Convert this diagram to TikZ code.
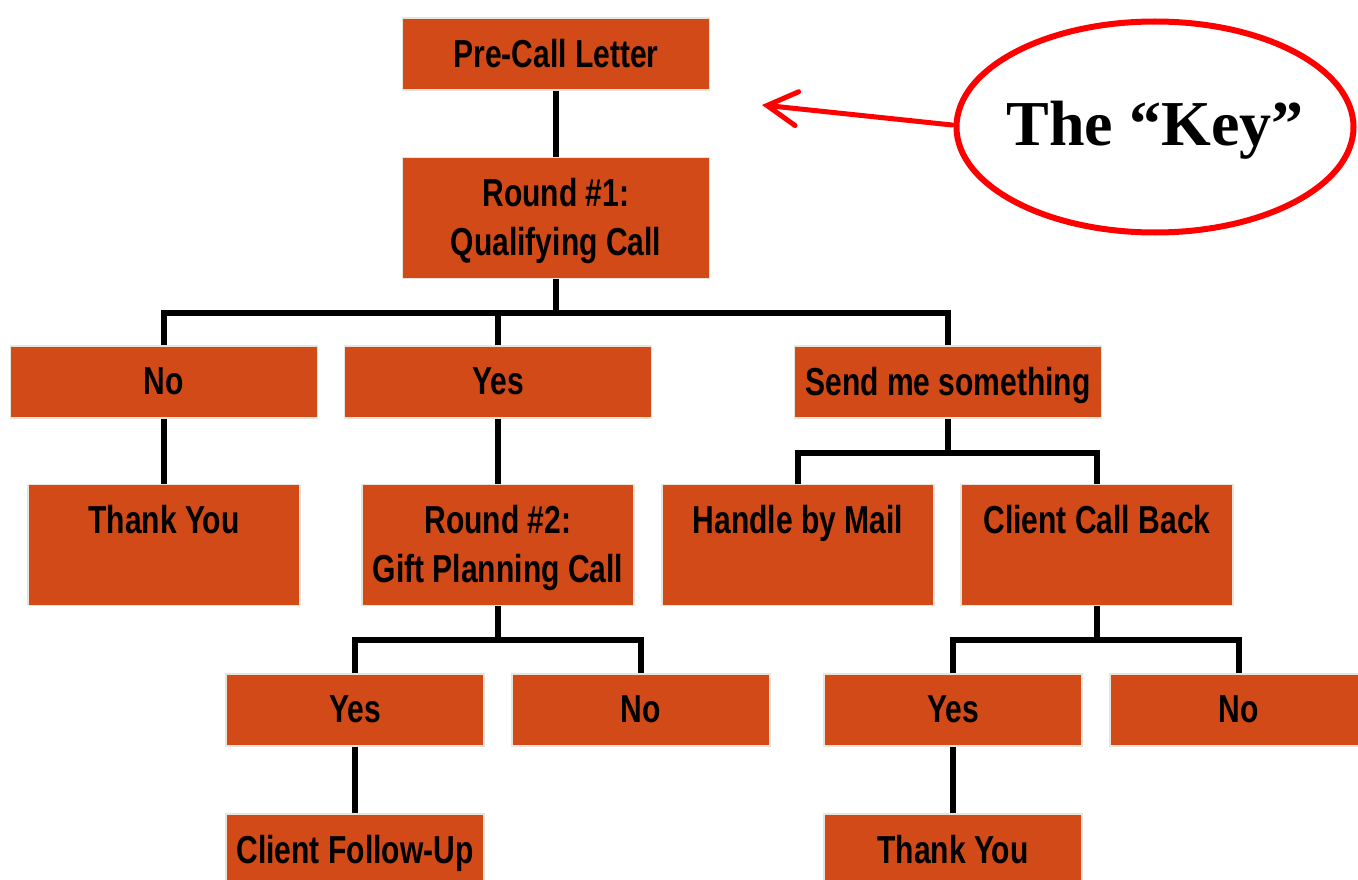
\documentclass[tikz,border=0pt]{standalone}
\usepackage{fontspec}
\setmainfont{Liberation Sans}
\newfontfamily\narrowsans[FakeStretch=0.77]{Liberation Sans}
\newfontfamily\keyserif{Liberation Serif}
\usetikzlibrary{positioning,arrows.meta,shapes.geometric}

\definecolor{boxfill}{HTML}{D14A17}
\definecolor{boxedge}{HTML}{E8E4DA}
\definecolor{keyred}{HTML}{FF0000}

\tikzset{
  stepbox/.style={draw=boxedge, line width=1.5pt, fill=boxfill, inner sep=0pt,
    align=center, text depth=2pt, font=\narrowsans\bfseries\fontsize{39}{49}\selectfont},
  widebox/.style={stepbox, minimum width=307pt, minimum height=72pt},
  tallbox/.style={stepbox, minimum width=272pt, minimum height=121pt},
  smallbox/.style={stepbox, minimum width=258pt, minimum height=72pt},
  conn/.style={line width=6pt, line join=miter}
}

\begin{document}
\begin{tikzpicture}[x=1pt, y=1pt]
\clip (0,0) rectangle (1358,-880);

% top of the tree
\node[widebox] (pre) at (556,-54) {Pre-Call Letter};
\node[widebox, minimum height=121pt] (round1) at (556,-218) {Round \#1:\\Qualifying Call};

% first answers
\node[widebox] (no1) at (164,-382) {No};
\node[widebox] (yes1) at (498,-382) {Yes};
\node[widebox] (send) at (948,-382) {Send me something};

\node[tallbox] (thanks1) at (164,-545) {Thank You\\~};
\node[tallbox] (round2) at (498,-545) {Round \#2:\\Gift Planning Call};
\node[tallbox] (mail) at (798,-545) {Handle by Mail\\~};
\node[tallbox] (callback) at (1097,-545) {Client Call Back\\~};

% second round answers
\node[smallbox] (yes2) at (355,-710) {Yes};
\node[smallbox] (no2) at (641,-710) {No};
\node[smallbox] (yes3) at (953,-710) {Yes};
\node[smallbox] (no3) at (1239,-710) {No};

\node[smallbox] (followup) at (355,-850) {Client Follow-Up};
\node[smallbox] (thanks2) at (953,-850) {Thank You};

% bus lines
\coordinate (bus1) at (556,-313);
\coordinate (bus2) at (948,-453);
\coordinate (bus3) at (498,-640);
\coordinate (bus4) at (1097,-640);

\draw[conn] (pre) -- (round1);
\draw[conn] (round1) -- (bus1);
\draw[conn] (no1.north) |- (bus1);
\draw[conn] (send.north) |- (bus1);
\draw[conn] (yes1.north) -- (yes1.north |- bus1);
\draw[conn] (no1) -- (thanks1);
\draw[conn] (yes1) -- (round2);
\draw[conn] (send) -- (bus2);
\draw[conn] (mail.north) |- (bus2);
\draw[conn] (callback.north) |- (bus2);
\draw[conn] (round2) -- (bus3);
\draw[conn] (yes2.north) |- (bus3);
\draw[conn] (no2.north) |- (bus3);
\draw[conn] (callback) -- (bus4);
\draw[conn] (yes3.north) |- (bus4);
\draw[conn] (no3.north) |- (bus4);
\draw[conn] (yes2) -- (followup);
\draw[conn] (yes3) -- (thanks2);

% the key
\coordinate (keymid) at (1155,-127);
\node[inner sep=0pt, font=\keyserif\bfseries\fontsize{64}{70}\selectfont] (key) at (1155,-130) {The “Key”};
\draw[keyred, line width=6pt] (keymid) ellipse [x radius=198.5pt, y radius=105.5pt];
\coordinate (keyedge) at (952,-125);
\coordinate (keytip) at (762,-105);
\draw[keyred, line width=5pt, line cap=round, -{Straight Barb[length=30pt, width=34pt, line cap=round]}]
  (keyedge) -- (keytip);
\end{tikzpicture}
\end{document}
